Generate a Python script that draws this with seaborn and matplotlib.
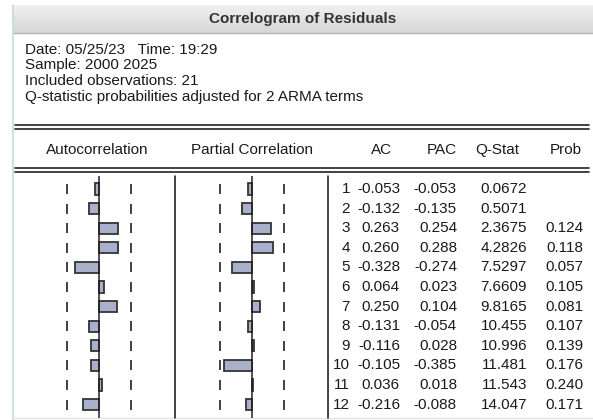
import numpy as np
import pandas as pd
import matplotlib
matplotlib.use("Agg")
import matplotlib.pyplot as plt
import seaborn as sns

# Correlogram values
lags = [1, 2, 3, 4, 5, 6, 7, 8, 9, 10, 11, 12]
ac = [-0.053, -0.132, 0.263, 0.260, -0.328, 0.064, 0.250, -0.131, -0.116, -0.105, 0.036, -0.216]
pac = [-0.053, -0.135, 0.254, 0.288, -0.274, 0.023, 0.104, -0.054, 0.028, -0.385, 0.018, -0.088]
qstat = ["0.0672", "0.5071", "2.3675", "4.2826", "7.5297", "7.6609", "9.8165",
         "10.455", "10.996", "11.481", "11.543", "14.047"]
prob = ["", "", "0.124", "0.118", "0.057", "0.105", "0.081", "0.107", "0.139",
        "0.176", "0.240", "0.171"]
header_lines = ["Date: 05/25/23   Time: 19:29",
                "Sample: 2000 2025",
                "Included observations: 21",
                "Q-statistic probabilities adjusted for 2 ARMA terms"]
n_obs = 21

df = pd.DataFrame({"lag": [str(l) for l in lags], "ac": ac, "pac": pac})

W, H = 593, 420
fig = plt.figure(figsize=(W / 100, H / 100), dpi=100)
sns.set_style("white")
plt.rcParams["font.family"] = ["Liberation Sans", "DejaVu Sans"]

# background axes in pixel units
bg = fig.add_axes([0, 0, 1, 1])
bg.set_xlim(0, W)
bg.set_ylim(H, 0)
bg.axis("off")

# title bar
grad = np.linspace(0, 1, 50).reshape(-1, 1)
bg.imshow(grad, extent=(13, W, 33, 5), cmap=matplotlib.colors.LinearSegmentedColormap.from_list(
    "tb", ["#f0f0f0", "#d6d6d6"]), aspect="auto", zorder=0)
bg.plot([13, W], [33, 33], color="#b4b4b4", lw=1)
bg.plot([13, 13], [5, H], color="#c9d6e3", lw=1.2)
bg.plot([13, W], [418, 418], color="#e2e2e2", lw=1)
bg.text(303, 19, "Correlogram of Residuals", ha="center", va="center",
        fontsize=11, fontweight="bold", color="#333333")

ty = 50
for line in header_lines:
    bg.text(25, ty, line, ha="left", va="center", fontsize=11, color="#1a1a1a")
    ty += 15.5

# double rules
for y in (125, 129, 168, 172):
    bg.plot([15, 589], [y, y], color="#222222", lw=1.2)

hy = 150
bg.text(97, hy, "Autocorrelation", ha="center", va="center", fontsize=11, color="#1a1a1a")
bg.text(252, hy, "Partial Correlation", ha="center", va="center", fontsize=11, color="#1a1a1a")
bg.text(392, hy, "AC", ha="right", va="center", fontsize=11, color="#1a1a1a")
bg.text(457, hy, "PAC", ha="right", va="center", fontsize=11, color="#1a1a1a")
bg.text(519, hy, "Q-Stat", ha="right", va="center", fontsize=11, color="#1a1a1a")
bg.text(582, hy, "Prob", ha="right", va="center", fontsize=11, color="#1a1a1a")

# vertical separators
for x in (175, 328):
    bg.plot([x, x], [176, 418], color="#111111", lw=1.1)

# table rows
row0, step = 189, 19.6
for i in range(len(lags)):
    y = row0 + step * i
    bg.text(350, y, str(lags[i]), ha="right", va="center", fontsize=11, color="#1a1a1a")
    bg.text(400, y, f"{ac[i]:.3f}", ha="right", va="center", fontsize=11, color="#1a1a1a")
    bg.text(457, y, f"{pac[i]:.3f}", ha="right", va="center", fontsize=11, color="#1a1a1a")
    bg.text(527, y, qstat[i], ha="right", va="center", fontsize=11, color="#1a1a1a")
    bg.text(583, y, prob[i], ha="right", va="center", fontsize=11, color="#1a1a1a")

# bar panels
K = 73.0  # pixels per unit correlation
bound = 2 / np.sqrt(n_obs)
y_top, y_bot = 176, 418


def panel(col, zero_x, x0, x1):
    ax = fig.add_axes([x0 / W, 1 - y_bot / H, (x1 - x0) / W, (y_bot - y_top) / H])
    sns.barplot(data=df, x=col, y="lag", orient="h", width=0.58, color="#a9b0cc",
                saturation=1, edgecolor="#333333", linewidth=1.3, ax=ax)
    ax.set_xlim((x0 - zero_x) / K, (x1 - zero_x) / K)
    ax.set_ylim((y_bot - row0) / step, (y_top - row0) / step)
    ax.axvline(0, color="#222222", lw=1.1, zorder=3)
    rows = np.arange(len(lags))
    for b in (-bound, bound):
        ax.vlines(np.full(len(rows), b), rows - 0.26, rows + 0.26, color="#333333", lw=1.3)
    ax.axis("off")
    return ax


panel("ac", 99, 20, 170)
panel("pac", 252, 180, 322)

fig.savefig("out.png", dpi=100)
